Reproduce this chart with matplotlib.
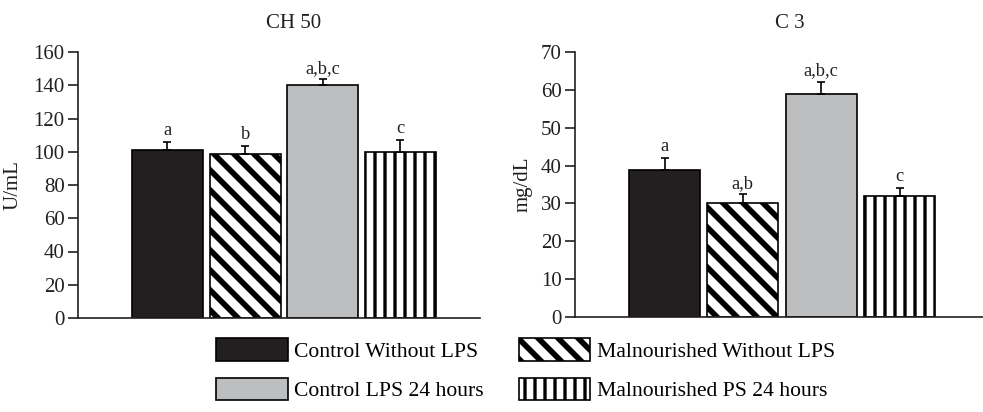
import numpy as np
import matplotlib
matplotlib.use("Agg")
import matplotlib.pyplot as plt
from matplotlib.patches import Patch

plt.rcParams['font.family'] = ['Liberation Serif', 'DejaVu Serif']

groups = ["Control Without LPS", "Malnourished Without LPS",
          "Control LPS 24 hours", "Malnourished PS 24 hours"]
ch50_values = [100.8, 98.6, 140.2, 100.0]
ch50_errors = [5.2, 4.8, 3.4, 7.0]
ch50_letters = ["a", "b", "a,b,c", "c"]
c3_values = [38.9, 30.0, 59.0, 32.0]
c3_errors = [3.1, 2.4, 3.1, 2.2]
c3_letters = ["a", "a,b", "a,b,c", "c"]

dark = "#231f20"
grey = "#bcbec0"
styles = [dict(facecolor=dark, hatch=None, hlw=1.0),
          dict(facecolor="white", hatch="\\\\", hlw=3.4),
          dict(facecolor=grey, hatch=None, hlw=1.0),
          dict(facecolor="white", hatch="||", hlw=2.0)]

DPI = 120
fig = plt.figure(figsize=(983 / DPI, 412 / DPI), dpi=DPI)

def panel(rect, values, errors, letters, ymax, step, ylabel, title,
          xlim, width, label_x, title_x):
    ax = fig.add_axes(rect)
    x = np.arange(len(values))
    for i in range(len(values)):
        st = styles[i]
        with plt.rc_context({'hatch.linewidth': st['hlw'], 'hatch.color': 'black'}):
            bars = ax.bar(x[i], values[i], width=width, facecolor=st['facecolor'],
                          edgecolor="black", linewidth=1.0, hatch=st['hatch'], zorder=2)
        for b in bars:
            if hasattr(b, 'set_hatch_linewidth'):
                b.set_hatch_linewidth(st['hlw'])
    ax.errorbar(x, values, yerr=[np.zeros(len(values)), errors], fmt='none',
                ecolor='black', elinewidth=1.0, capsize=2.5, capthick=1.0, zorder=3)
    for xi, v, e, t in zip(x, values, errors, letters):
        ax.annotate(t, (xi, v + e), xytext=(0, 4), textcoords='offset points',
                    ha='center', va='baseline', fontsize=11, color='#231f20')
    ax.set_ylim(0, ymax)
    ax.set_xlim(*xlim)
    ax.set_yticks(np.arange(0, ymax + 1, step))
    ax.set_xticks([])
    for s in ['top', 'right']:
        ax.spines[s].set_visible(False)
    for s in ['left', 'bottom']:
        ax.spines[s].set_linewidth(1.0)
        ax.spines[s].set_color('#231f20')
    ax.tick_params(axis='y', direction='out', length=6, width=1.0, pad=2,
                   labelsize=12.5, colors='#231f20')
    ax.set_ylabel(ylabel, fontsize=12.5, color='#231f20')
    ax.yaxis.set_label_coords(label_x, 0.5)
    ax.text(title_x, 1.09, title, transform=ax.transAxes, ha='center',
            va='baseline', fontsize=12.5, color='#231f20')
    return ax

panel([78 / 983, 94 / 412, 402 / 983, 266 / 412], ch50_values, ch50_errors,
      ch50_letters, 160, 20, "U/mL", "CH 50", (-1.152, 4.024), 0.914,
      -0.137, 0.535)
panel([575 / 983, 95 / 412, 408 / 983, 265 / 412], c3_values, c3_errors,
      c3_letters, 70, 10, "mg/dL", "C 3", (-1.143, 4.066), 0.906,
      -0.105, 0.527)

handles = []
for st in styles:
    with plt.rc_context({'hatch.linewidth': st['hlw'], 'hatch.color': 'black'}):
        p = Patch(facecolor=st['facecolor'], edgecolor='black', linewidth=1.0,
                  hatch=st['hatch'])
    if hasattr(p, 'set_hatch_linewidth'):
        p.set_hatch_linewidth(st['hlw'])
    handles.append(p)

order = [0, 2, 1, 3]
leg = fig.legend([handles[i] for i in order], [groups[i] for i in order], ncol=2,
                 loc='upper left', bbox_to_anchor=(212 / 983, 1 - 334 / 412),
                 frameon=False, fontsize=13, handlelength=3.3, handleheight=1.2,
                 handletextpad=0.3, labelspacing=0.75, columnspacing=1.6,
                 borderaxespad=0, borderpad=0.2)
lh = getattr(leg, 'legend_handles', None) or getattr(leg, 'legendHandles', [])
for h, i in zip(lh, order):
    if hasattr(h, 'set_hatch_linewidth'):
        h.set_hatch_linewidth(styles[i]['hlw'])

fig.savefig("out.png", dpi=DPI)
